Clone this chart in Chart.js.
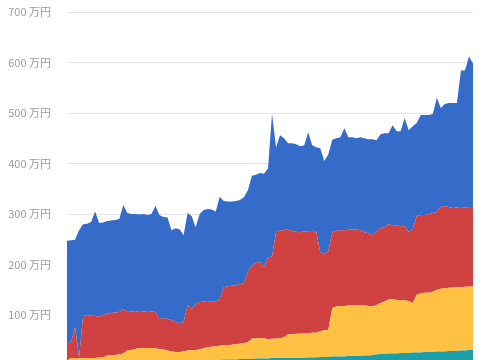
<!DOCTYPE html>
<html>
<head>
<meta charset="utf-8">
<script src="https://cdn.jsdelivr.net/npm/chart.js@4"></script>
<style>
  html, body { margin: 0; padding: 0; background: #fff; overflow: hidden; }
  canvas { display: block; }
</style>
</head>
<body>
<canvas id="canvas" width="479" height="360"></canvas>
<script>
// values in 万円, one entry per period
let teal = [4,4,4,4,5,5,5,5,5,6,
  6,6,6,7,7,7,7,8,8,8,
  8,8,9,9,9,9,10,10,10,10,
  10,10,10,10,10,11,11,11,11,12,
  12,12,12,13,13,13,13,14,14,14,
  14,15,15,15,15,15,15,15,15,15,
  16,16,16,17,17,17,18,18,18,18,
  19,19,19,19,20,20,21,22,23,23,
  24,24,24,25,25,25,26,26,26,27,
  27,27,28,28,28,29,29,29,30,30,
  31,31];
let yellow = [6,11,11,11,10,10,10,10,11,10,
  14,15,15,15,17,23,24,25,27,27,
  27,27,25,24,23,21,18,17,17,18,
  20,21,21,22,25,25,26,27,28,28,
  28,29,30,30,31,33,40,40,40,40,
  38,38,38,39,41,47,47,48,48,49,
  48,49,49,51,53,53,96,99,100,100,
  100,101,101,101,99,98,96,98,101,104,
  107,108,106,105,104,103,98,114,117,117,
  117,119,122,124,125,125,125,126,125,126,
  125,126];
let red = [34,31,61,1,83,85,84,83,81,84,
  83,83,84,84,88,76,76,75,71,72,
  73,72,72,59,62,62,62,59,57,58,
  90,81,91,94,92,90,91,89,93,115,
  117,117,117,118,119,140,145,149,152,140,
  162,163,211,214,212,208,204,202,201,202,
  202,202,201,156,152,156,150,150,150,150,
  150,150,150,148,145,144,141,146,148,147,
  149,146,148,146,147,137,146,156,155,154,
  156,156,154,162,163,160,158,158,157,157,
  158,157];
let blue = [203,202,173,252,182,181,185,207,185,183,
  183,183,183,184,206,196,193,192,193,193,
  190,193,210,206,200,201,178,186,186,172,
  182,184,152,174,181,184,181,178,202,171,
  168,167,167,167,170,161,178,175,175,186,
  176,282,168,188,182,170,174,173,170,170,
  196,169,166,206,183,192,183,183,184,202,
  183,182,180,184,186,186,190,180,186,186,
  180,198,186,188,214,201,204,184,198,198,
  196,196,226,196,202,206,208,207,272,271,
  298,284];

let labels = blue.map((v, i) => i + 1);
let yTicks = [100, 200, 300, 400, 500, 600, 700];

function series(data, color) {
  return {
    data: data,
    backgroundColor: color,
    borderColor: color,
    borderWidth: 0,
    pointRadius: 0,
    tension: 0,
    fill: '-1'
  };
}

let sets = [
  series(teal, '#1b9ea8'),
  series(yellow, '#fec141'),
  series(red, '#d04141'),
  series(blue, '#366cc9')
];
sets[0].fill = 'origin';

let options = {
  type: 'line',
  data: { labels: labels, datasets: sets },
  options: {
    responsive: false,
    animation: false,
    layout: { padding: { top: 12, right: 6, left: 0, bottom: 0 } },
    plugins: { legend: { display: false }, tooltip: { enabled: false } },
    scales: {
      x: { display: false, offset: false },
      y: {
        stacked: true,
        min: 11,
        max: 700,
        border: { display: false },
        grid: { color: '#e6e6e6', drawTicks: false },
        afterBuildTicks: axis => { axis.ticks = yTicks.map(v => ({ value: v })); },
        afterFit: axis => {
          axis.width = 67;
          axis.paddingTop = 0;
          axis.paddingBottom = 0;
        },
        ticks: {
          padding: 16,
          color: '#9a9a9a',
          font: { family: "'Noto Sans CJK JP', 'Noto Sans', sans-serif", size: 11 },
          callback: v => v + ' 万円'
        }
      }
    }
  }
};

new Chart(document.getElementById('canvas'), options);
</script>
</body>
</html>
